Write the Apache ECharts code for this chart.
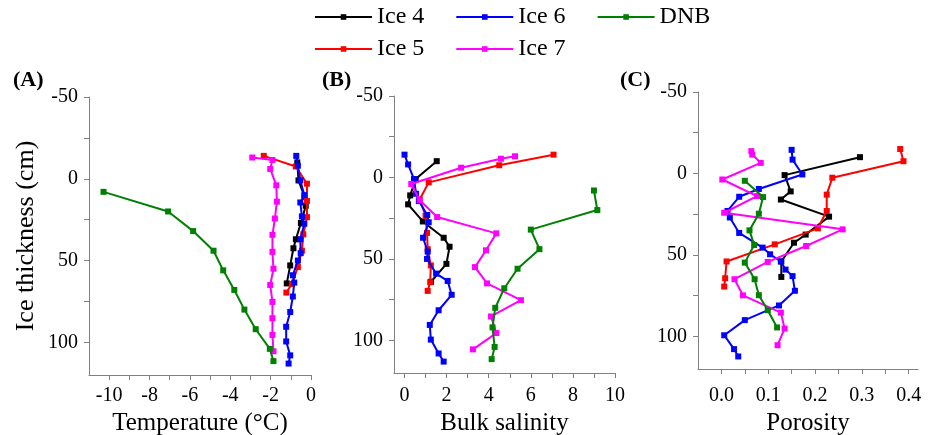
<!DOCTYPE html>
<html><head><meta charset="utf-8">
<script src="https://cdn.jsdelivr.net/npm/echarts@6/dist/echarts.min.js"></script>
<style>html,body{margin:0;padding:0;background:#fff}#c{width:932px;height:435px}</style>
</head><body><div id="c"></div>
<script>
const FONT = 'Liberation Serif';

// ---- tick values / labels ----
const depthTicks = [-50, -25, 0, 25, 50, 75, 100];
const depthLabels = [-50, 0, 50, 100];
const tempTicks = [-10, -9, -8, -7, -6, -5, -4, -3, -2, -1, 0];
const tempLabels = [-10, -8, -6, -4, -2, 0];
const salTicks = [0, 1, 2, 3, 4, 5, 6, 7, 8, 9, 10];
const salLabels = [0, 2, 4, 6, 8, 10];
const porTicks = [0, 0.05, 0.1, 0.15, 0.2, 0.25, 0.3, 0.35, 0.4];
const porLabels = [0, 0.1, 0.2, 0.3, 0.4];

const seriesNames = ['Ice 4', 'Ice 5', 'Ice 6', 'Ice 7', 'DNB'];
const seriesColors = ['#000000', '#ff0000', '#0000ff', '#ff00ff', '#008000'];

// ---- Ice 4 ----
const ice4Depth = [-10, 1, 11, 16.5, 27, 37, 42.5, 53, 64];
const ice4Temp = [-0.68, -0.62, -0.32, -0.26, -0.5, -0.75, -0.87, -1.03, -1.2];
const ice4Sal = [1.53, 0.53, 0.27, 0.17, 0.87, 1.86, 2.14, 1.99, 1.26];
const ice4PorDepth = [-10, 1, 11, 16, 26.5, 37.5, 42.5, 54, 63.5];
const ice4Por = [0.296, 0.135, 0.148, 0.127, 0.23, 0.18, 0.155, 0.128, 0.128];

// ---- Ice 5 ----
const ice5Depth = [-14, -7.5, 3, 13.5, 23.5, 34, 44, 54, 64.3, 69.6];
const ice5Temp = [-2.34, -0.75, -0.2, -0.2, -0.2, -0.38, -0.45, -0.65, -0.95, -1.22];
const ice5Sal = [7.08, 4.5, 1.15, 0.72, 1.0, 1.07, 1.1, 1.25, 1.22, 1.1];
const ice5PorDepth = [-15, -7.5, 2.6, 13, 23, 33.7, 43.5, 54, 64.3, 69.4];
const ice5Por = [0.382, 0.389, 0.237, 0.225, 0.225, 0.206, 0.114, 0.011, 0.008, 0.006];

// ---- Ice 6 ----
const ice6Depth = [-14, -8, 1, 10, 14.5, 23, 27.5, 37, 45.5, 50, 59, 63.5, 72, 81.5, 90.5, 99.5, 108, 113];
const ice6Temp = [-0.73, -0.65, -0.53, -0.33, -0.53, -0.45, -0.33, -0.53, -0.51, -0.65, -0.9, -0.83, -0.9, -1.03, -1.23, -1.23, -1.03, -1.11];
const ice6Sal = [0, 0.17, 0.45, 0.55, 0.68, 1.08, 1.15, 0.88, 1.1, 1.07, 1.5, 2.05, 2.24, 1.62, 1.2, 1.25, 1.62, 1.86];
const ice6PorDepth = [-14.5, -8.5, 0.6, 9.5, 14.3, 23, 27, 36.5, 45.5, 49.6, 54, 59, 63, 72, 81, 90, 99.3, 107.8, 112.3];
const ice6Por = [0.150, 0.152, 0.173, 0.08, 0.038, 0.013, 0.018, 0.038, 0.088, 0.104, 0.127, 0.137, 0.152, 0.157, 0.123, 0.05, 0.006, 0.027, 0.036];

// ---- Ice 7 ----
const ice7Depth = [-13, -11.5, -6, 4, 14, 24.3, 34.3, 44.7, 55, 65, 75.3, 85.3, 95.5, 105.5];
const ice7Temp = [-2.91, -1.91, -2.02, -1.72, -1.69, -1.79, -1.91, -1.91, -1.86, -2.02, -1.91, -1.91, -1.91, -1.86];
const ice7Sal = [5.25, 4.58, 2.69, 0.32, 0.72, 1.55, 4.36, 3.87, 3.35, 3.92, 5.53, 4.11, 4.36, 3.25];
const ice7PorDepth = [-13.7, -11.6, -6.5, 3.7, 13.9, 24.1, 34.3, 44.5, 54.3, 64.9, 74.8, 85.4, 95.2, 105.4];
const ice7Por = [0.064, 0.066, 0.084, 0.002, 0.076, 0.006, 0.259, 0.181, 0.099, 0.028, 0.046, 0.127, 0.135, 0.12];

// ---- DNB ----
const dnbDepth = [8, 20, 32, 44, 56, 68, 80, 92, 104, 111.5];
const dnbTemp = [-10.28, -7.08, -5.84, -4.83, -4.35, -3.8, -3.3, -2.74, -2.04, -1.86];
const dnbSal = [9.0, 9.16, 6.0, 6.41, 5.37, 4.74, 4.31, 4.18, 4.28, 4.14];
const dnbPorDepth = [4.5, 14.5, 24.7, 34.9, 43.9, 54.7, 64.9, 74.7, 83.9, 94.5];
const dnbPor = [0.05, 0.089, 0.08, 0.06, 0.07, 0.05, 0.071, 0.08, 0.099, 0.119];

const panels = [
  [[ice4Temp, ice4Depth], [ice5Temp, ice5Depth], [ice6Temp, ice6Depth], [ice7Temp, ice7Depth], [dnbTemp, dnbDepth]],
  [[ice4Sal, ice4Depth], [ice5Sal, ice5Depth], [ice6Sal, ice6Depth], [ice7Sal, ice7Depth], [dnbSal, dnbDepth]],
  [[ice4Por, ice4PorDepth], [ice5Por, ice5PorDepth], [ice6Por, ice6PorDepth], [ice7Por, ice7PorDepth], [dnbPor, dnbPorDepth]]
];

const axisLineStyle = { color: '#808080', width: 1 };
const labelStyle = { color: '#000', fontFamily: FONT, fontSize: 20 };
const nameStyle = { color: '#000', fontFamily: FONT, fontSize: 25 };

function xAxis(idx, min, max, ticks, labels, name, margin, gap, fmt) {
  return {
    type: 'value', gridIndex: idx, min: min, max: max,
    name: name, nameLocation: 'middle', nameGap: gap, nameTextStyle: nameStyle,
    axisLine: { show: true, onZero: false, lineStyle: axisLineStyle },
    axisTick: { show: true, length: 5, lineStyle: axisLineStyle, customValues: ticks },
    axisLabel: Object.assign({ margin: margin, customValues: labels, formatter: fmt }, labelStyle),
    splitLine: { show: false }
  };
}
function yAxis(idx, showName) {
  return {
    type: 'value', gridIndex: idx, min: -50, max: 120, inverse: true,
    name: showName ? 'Ice thickness (cm)' : '', nameLocation: 'middle', nameGap: 50,
    nameTextStyle: Object.assign({}, nameStyle, { fontSize: 26 }),
    axisLine: { show: true, onZero: false, lineStyle: axisLineStyle },
    axisTick: { show: true, length: 5, lineStyle: axisLineStyle, customValues: depthTicks },
    axisLabel: Object.assign({ margin: 11, customValues: depthLabels }, labelStyle),
    splitLine: { show: false }
  };
}

const series = [];
panels.forEach((panel, p) => {
  panel.forEach((pair, s) => {
    const vals = pair[0], depths = pair[1];
    series.push({
      type: 'line', name: seriesNames[s], xAxisIndex: p, yAxisIndex: p,
      data: depths.map((d, i) => [vals[i], d]),
      symbol: 'rect', symbolSize: 6, showSymbol: true,
      lineStyle: { color: seriesColors[s], width: 2 },
      itemStyle: { color: seriesColors[s] },
      emphasis: { disabled: true }, z: 2 + s
    });
  });
});

const legendText = { color: '#000', fontFamily: FONT, fontSize: 24 };
const titleText = { fontFamily: FONT, fontSize: 22, fontWeight: 'bold', color: '#000' };
const option = {
  animation: false,
  backgroundColor: '#fff',
  color: seriesColors,
  title: [
    { text: '(A)', left: 8, top: 64, textStyle: titleText },
    { text: '(B)', left: 317, top: 64, textStyle: titleText },
    { text: '(C)', left: 615, top: 64, textStyle: titleText }
  ],
  legend: [
    { data: ['Ice 4', 'Ice 6', 'DNB'], left: 314, top: 5, padding: 0, itemWidth: 57, itemHeight: 7, itemGap: 31, textStyle: legendText, selectedMode: false },
    { data: ['Ice 5', 'Ice 7'], left: 314, top: 37, padding: 0, itemWidth: 57, itemHeight: 7, itemGap: 31, textStyle: legendText, selectedMode: false }
  ],
  grid: [
    { left: 89, top: 97, width: 222, height: 278, outerBoundsMode: 'none', containLabel: false },
    { left: 394, top: 96, width: 221, height: 277, outerBoundsMode: 'none', containLabel: false },
    { left: 698, top: 92, width: 220, height: 277, outerBoundsMode: 'none', containLabel: false }
  ],
  xAxis: [
    xAxis(0, -11, 0, tempTicks, tempLabels, 'Temperature (°C)', 11, 32),
    xAxis(1, -0.5, 10, salTicks, salLabels, 'Bulk salinity', 13, 34),
    xAxis(2, -0.05, 0.42, porTicks, porLabels, 'Porosity', 17, 38, v => v.toFixed(1))
  ],
  yAxis: [yAxis(0, true), yAxis(1, false), yAxis(2, false)],
  series: series
};

const chart = echarts.init(document.getElementById('c'), null, { renderer: 'canvas' });
chart.setOption(option);
</script>
</body></html>
